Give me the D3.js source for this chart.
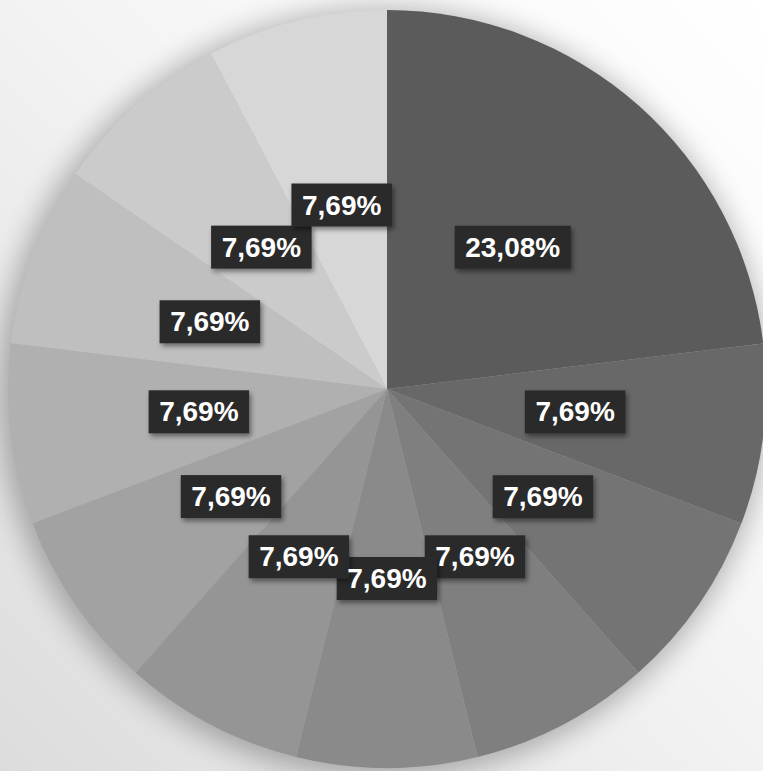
<!DOCTYPE html>
<html>
<head>
<meta charset="utf-8">
<script src="https://cdn.jsdelivr.net/npm/d3@7"></script>
<style>
    body { margin: 0; overflow: hidden; }
    svg { display: block; }
</style>
</head>
<body>
<svg id="chart" width="763" height="771"></svg>
<script>
// data
const categories = ["A", "B", "C", "D", "E", "F", "G", "H", "I", "J", "K"];
const values = [23.08, 7.69, 7.69, 7.69, 7.69, 7.69, 7.69, 7.69, 7.69, 7.69, 7.69];
const sliceColors = ["#5b5b5b", "#686868", "#747474", "#7f7f7f", "#8a8a8a", "#959595",
    "#a2a2a2", "#b0b0b0", "#bfbfbf", "#cbcbcb", "#d7d7d7"];

const width = 763,
    height = 771;
const cx = 387, cy = 389, radius = 379;

const svg = d3.select("#chart");
const defs = svg.append("defs");

// background gradient, white top right to light gray bottom left
const bg = defs.append("linearGradient")
    .attr("id", "bg")
    .attr("x1", "1").attr("y1", "0")
    .attr("x2", "0").attr("y2", "1");
bg.append("stop").attr("offset", "0%").attr("stop-color", "#ffffff");
bg.append("stop").attr("offset", "45%").attr("stop-color", "#f4f4f4");
bg.append("stop").attr("offset", "100%").attr("stop-color", "#dcdcdc");

defs.append("filter")
    .attr("id", "pieShadow")
    .attr("x", "-20%").attr("y", "-20%")
    .attr("width", "140%").attr("height", "140%")
    .append("feGaussianBlur")
        .attr("stdDeviation", 14);

const boxShadow = defs.append("filter")
    .attr("id", "boxShadow")
    .attr("x", "-20%").attr("y", "-30%")
    .attr("width", "150%").attr("height", "170%");
boxShadow.append("feDropShadow")
    .attr("dx", 2).attr("dy", 3)
    .attr("stdDeviation", 2.5)
    .attr("flood-color", "#000")
    .attr("flood-opacity", 0.45);

svg.append("rect")
    .attr("width", width)
    .attr("height", height)
    .attr("fill", "url(#bg)");

const g = svg.append("g")
    .attr("transform", "translate(" + cx + "," + cy + ")");

// soft shadow under the pie
g.append("circle")
    .attr("cx", -4)
    .attr("cy", 4)
    .attr("r", radius + 6)
    .attr("fill", "#000")
    .attr("opacity", 0.28)
    .attr("filter", "url(#pieShadow)");

const data = categories.map(function (c, i) {
    return { name: c, value: values[i] };
});

const pie = d3.pie()
    .sort(null)
    .value(function (d) { return d.value; });

const arc = d3.arc()
    .innerRadius(0)
    .outerRadius(radius);

const color = d3.scaleOrdinal()
    .domain(categories)
    .range(sliceColors);

const arcs = pie(data);

g.selectAll("path.slice")
    .data(arcs)
    .enter()
    .append("path")
        .attr("class", "slice")
        .attr("d", arc)
        .attr("fill", function (d) { return color(d.data.name); });

const fmt = function (v) {
    return d3.format(".2f")(v).replace(".", ",") + "%";
};

const labelArc = d3.arc()
    .innerRadius(radius * 0.5)
    .outerRadius(radius * 0.5);

// labels: boxes first, text afterwards so no box hides a text
const labels = g.append("g");

const texts = labels.selectAll("text")
    .data(arcs)
    .enter()
    .append("text")
        .attr("x", function (d) { return labelArc.centroid(d)[0]; })
        .attr("y", function (d) { return labelArc.centroid(d)[1]; })
        .attr("text-anchor", "middle")
        .attr("dominant-baseline", "central")
        .attr("fill", "#ffffff")
        .attr("font-family", "'Liberation Sans', Arial, sans-serif")
        .attr("font-weight", "bold")
        .attr("font-size", 28)
        .text(function (d) { return fmt(d.data.value); });

texts.each(function (d) {
    const bb = this.getBBox();
    const c = labelArc.centroid(d);
    d.boxW = bb.width + 21;
    d.boxH = 43;
    d.cx = c[0];
    d.cy = c[1];
});

labels.selectAll("rect")
    .data(arcs)
    .enter()
    .insert("rect", "text")
        .attr("x", function (d) { return d.cx - d.boxW / 2; })
        .attr("y", function (d) { return d.cy - d.boxH / 2; })
        .attr("width", function (d) { return d.boxW; })
        .attr("height", function (d) { return d.boxH; })
        .attr("fill", "#2b2b2b")
        .attr("filter", "url(#boxShadow)");
</script>
</body>
</html>
